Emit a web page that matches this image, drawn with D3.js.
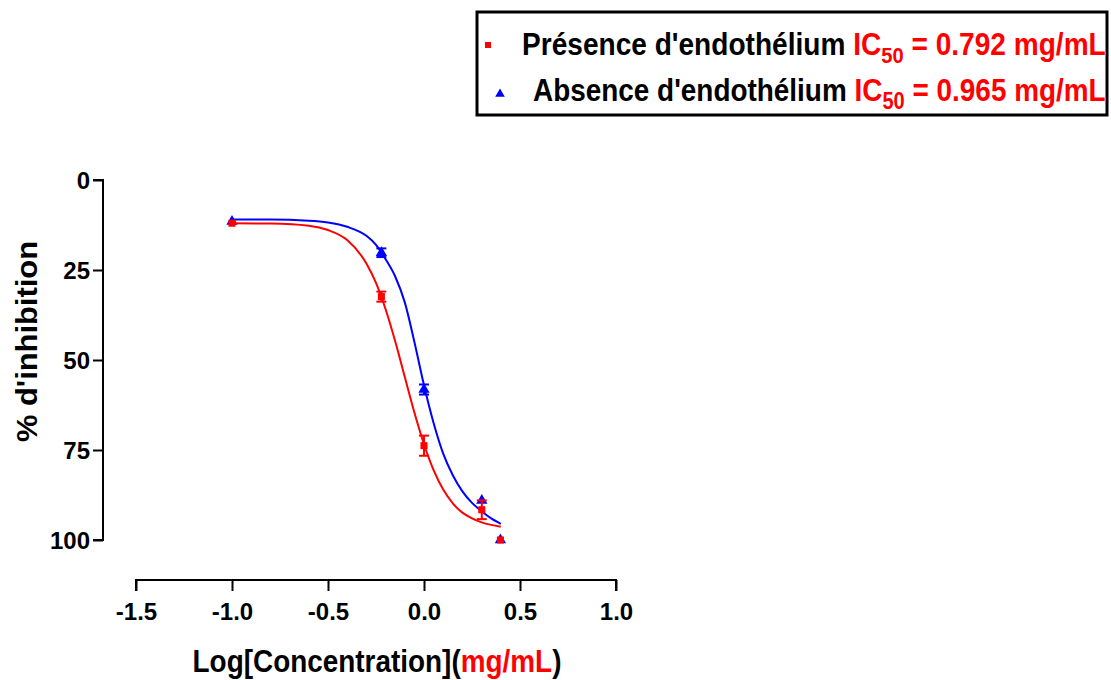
<!DOCTYPE html>
<html>
<head>
<meta charset="utf-8">
<script src="https://cdn.jsdelivr.net/npm/d3@7"></script>
<style>
  body { margin: 0; background: #fff; }
  svg { font-family: "Liberation Sans", Arial, sans-serif; font-weight: bold; }
</style>
</head>
<body>
<svg width="1111" height="680"></svg>
<script>
var width = 1111;
var height = 680;

// measured points (log concentration, % inhibition, error)
var logConc = [-1.0, -0.222, 0.0, 0.301, 0.398];
var presence = [12, 32.4, 73.8, 91.6, 100];
var presenceErr = [0, 1.4, 2.8, 2.6, 0];
var absence = [11.5, 20.2, 58.2, 89, 100];
var absenceErr = [0, 1.2, 1.4, 0, 0];

// fitted curves
var curveX = [-1.0, -0.8, -0.6, -0.5, -0.4, -0.3, -0.25, -0.2, -0.15, -0.1, -0.05, 0, 0.05, 0.1, 0.15, 0.2, 0.25, 0.3, 0.35, 0.4];
var presenceFit = [12.0, 12.1, 12.7, 13.9, 16.7, 23.2, 28.6, 35.9, 44.8, 54.7, 64.6, 73.4, 80.6, 86.0, 89.8, 92.4, 94.0, 95.1, 95.8, 96.3];
var absenceFit = [11.0, 11.0, 11.3, 11.8, 13.0, 15.5, 18.0, 22.0, 26.8, 34.0, 45.0, 57.0, 67.5, 76.0, 82.0, 86.5, 89.7, 92.0, 94.0, 95.5];

var xTicks = [-1.5, -1.0, -0.5, 0.0, 0.5, 1.0];
var yTicks = [0, 25, 50, 75, 100];

var svg = d3.select("svg");

var xScale = d3.scaleLinear().domain([-1.5, 1.0]).range([136, 616]);
var yScale = d3.scaleLinear().domain([0, 100]).range([180, 540]);

// squeeze a text horizontally around its anchor so it fills a given width
function fitWidth(sel, w) {
  var node = sel.node();
  var len = node.getComputedTextLength();
  var x = +sel.attr("x") || 0;
  var y = +sel.attr("y") || 0;
  sel.attr("x", 0).attr("y", 0)
    .attr("transform", "translate(" + x + "," + y + ") scale(" + (w / len) + ",1)");
}

// X AXIS
var xAxis = d3.axisBottom(xScale)
  .tickValues(xTicks)
  .tickFormat(function (d) { return d.toFixed(1); }) // plain hyphen, not unicode minus
  .tickSize(11)
  .tickSizeOuter(11);

var gx = svg.append("g")
  .attr("transform", "translate(0, 580)")
  .call(xAxis);

gx.selectAll(".tick text")
  .attr("y", 40)
  .attr("dy", null);

// Y AXIS
var yAxis = d3.axisLeft(yScale)
  .tickValues(yTicks)
  .tickSize(10)
  .tickSizeOuter(10);

var gy = svg.append("g")
  .attr("transform", "translate(103, 0)")
  .call(yAxis);

gy.selectAll(".tick text")
  .attr("x", -13)
  .attr("dy", "0.36em");

[gx, gy].forEach(function (g) {
  g.select(".domain").attr("stroke", "#000").attr("stroke-width", 2);
  g.selectAll(".tick line").attr("stroke", "#000").attr("stroke-width", 2);
  g.selectAll(".tick text")
    .attr("fill", "#000")
    .style("font-size", "24px")
    .style("font-weight", "bold")
    .style("font-family", "'Liberation Sans', Arial, sans-serif");
});
gy.select(".domain").attr("d", "M-10," + yScale(0) + "H0V" + yScale(100) + "H-10");
gx.select(".domain").attr("d", "M" + xScale(-1.5) + ",11V0H" + xScale(1.0) + "V11");

// AXIS TITLES
var yt = svg.append("text")
  .attr("x", 0)
  .attr("y", 0)
  .style("text-anchor", "middle")
  .style("font-size", "29px")
  .text("% d'inhibition");
fitWidth(yt, 201);
yt.attr("transform", "translate(37,341.5) rotate(-90) " + yt.attr("transform").replace(/translate\([^)]*\)\s*/, ""));

var xt = svg.append("text")
  .attr("x", 377)
  .attr("y", 672)
  .style("text-anchor", "middle")
  .style("font-size", "32px");
xt.append("tspan").text("Log[Concentration](");
xt.append("tspan").attr("fill", "#ff0000").text("mg/mL");
xt.append("tspan").text(")");
fitWidth(xt, 369);

// CURVES
var line = d3.line()
  .x(function (d) { return xScale(d[0]); })
  .y(function (d) { return yScale(d[1]); })
  .curve(d3.curveMonotoneX);

var series = [
  { color: "#0000ff", fit: absenceFit, vals: absence, errs: absenceErr, shape: d3.symbolTriangle, size: 55 },
  { color: "#ff0000", fit: presenceFit, vals: presence, errs: presenceErr, shape: d3.symbolSquare, size: 50 }
];

series.forEach(function (s) {
  svg.append("path")
    .datum(curveX.map(function (x, i) { return [x, s.fit[i]]; }))
    .attr("fill", "none")
    .attr("stroke", s.color)
    .attr("stroke-width", 2)
    .attr("d", line);

  var pts = logConc.map(function (x, i) { return { x: x, y: s.vals[i], e: s.errs[i] }; });

  // error bars
  var eb = svg.append("g").attr("stroke", s.color).attr("stroke-width", 2);
  pts.filter(function (d) { return d.e > 0; }).forEach(function (d) {
    var cx = xScale(d.x);
    eb.append("line").attr("x1", cx).attr("x2", cx).attr("y1", yScale(d.y - d.e)).attr("y2", yScale(d.y + d.e));
    eb.append("line").attr("x1", cx - 5).attr("x2", cx + 5).attr("y1", yScale(d.y - d.e)).attr("y2", yScale(d.y - d.e));
    eb.append("line").attr("x1", cx - 5).attr("x2", cx + 5).attr("y1", yScale(d.y + d.e)).attr("y2", yScale(d.y + d.e));
  });

  svg.append("g").selectAll("path")
    .data(pts)
    .enter()
    .append("path")
    .attr("transform", function (d) { return "translate(" + xScale(d.x) + "," + yScale(d.y) + ")"; })
    .attr("d", d3.symbol().type(s.shape).size(s.size))
    .attr("fill", s.color);
});

// LEGEND
svg.append("rect")
  .attr("x", 477)
  .attr("y", 12)
  .attr("width", 630)
  .attr("height", 103)
  .attr("fill", "none")
  .attr("stroke", "#000")
  .attr("stroke-width", 3);

var legendRows = [
  { label: "Présence d'endothélium ", ic: "0.792", color: "#ff0000", shape: d3.symbolSquare, size: 36, mx: 488, my: 45, tx: 522, ty: 55, w: 584 },
  { label: "Absence d'endothélium ", ic: "0.965", color: "#0000ff", shape: d3.symbolTriangle, size: 40, mx: 500, my: 94, tx: 533, ty: 101, w: 573 }
];

legendRows.forEach(function (r) {
  svg.append("path")
    .attr("transform", "translate(" + r.mx + "," + r.my + ")")
    .attr("d", d3.symbol().type(r.shape).size(r.size))
    .attr("fill", r.color);

  var t = svg.append("text")
    .attr("x", r.tx)
    .attr("y", r.ty)
    .style("font-size", "32px");
  t.append("tspan").attr("fill", "#000").text(r.label);
  t.append("tspan").attr("fill", "#ff0000").text("IC");
  t.append("tspan").attr("fill", "#ff0000").attr("dy", 8).style("font-size", "23px").text("50");
  t.append("tspan").attr("fill", "#ff0000").attr("dy", -8).text(" = " + r.ic + " mg/mL");
  fitWidth(t, r.w);
});
</script>
</body>
</html>
